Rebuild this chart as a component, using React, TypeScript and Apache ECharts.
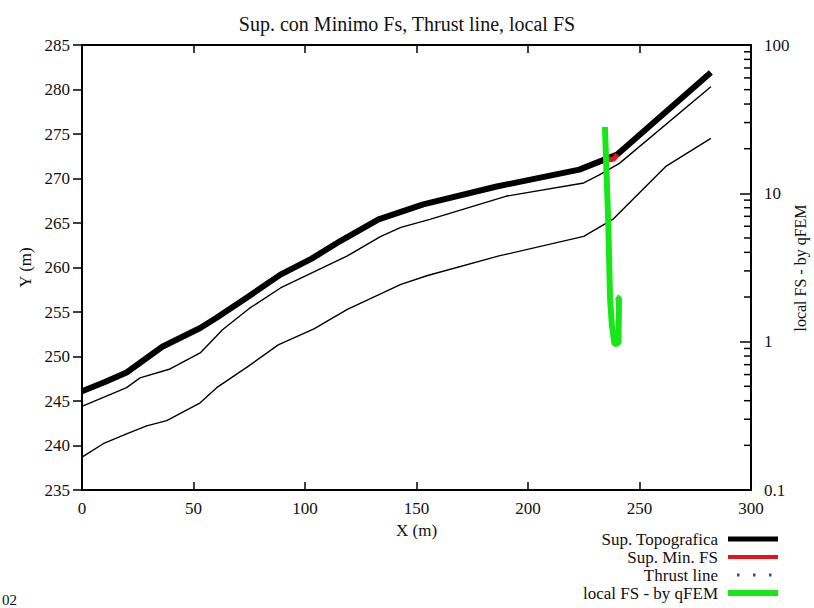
import React, { useEffect, useRef } from "react";
import * as echarts from "echarts";

const FONT = "'Liberation Serif', 'DejaVu Serif', serif";

const titleText = "Sup. con Minimo Fs, Thrust line, local FS";
const rightAxisName = "local FS - by qFEM";
const legendNames = ["Sup. Topografica", "Sup. Min. FS", "Thrust line", "local FS - by qFEM"];
const legendColors = ["#000000", "#e8141c", "#3a3ac8", "#19e619"];

// Sup. Topografica (thick black)
const topoX = [0, 10, 20, 36, 53, 60, 75, 89, 103, 116, 133, 153, 186, 223, 232, 240, 282];
const topoY = [246.1, 247.1, 248.2, 251.1, 253.2, 254.3, 256.8, 259.2, 261, 263, 265.4, 267.1, 269.1, 271, 271.9, 272.7, 281.9];

// layer boundary 1 (thin)
const layer1X = [0, 20, 26, 39.5, 53, 63, 75, 89, 119, 134, 143, 156, 190, 225, 232, 241, 282];
const layer1Y = [244.4, 246.5, 247.6, 248.6, 250.4, 253, 255.4, 257.7, 261.3, 263.5, 264.5, 265.4, 268, 269.5, 270.4, 271.7, 280.3];

// layer boundary 2 (thin)
const layer2X = [0, 9.5, 20, 29, 38, 53, 60.4, 74, 88, 104, 119, 143, 155, 187, 225, 238, 262, 282];
const layer2Y = [238.7, 240.2, 241.3, 242.2, 242.8, 244.8, 246.5, 248.8, 251.3, 253.1, 255.3, 258.1, 259.1, 261.3, 263.5, 265.4, 271.4, 274.5];

// Sup. Min. FS (red)
const minFsX = [235.5, 237, 238.5, 240];
const minFsY = [272.3, 272.1, 272.2, 272.7];

// Thrust line (not visible in picture)
const thrustX: number[] = [];
const thrustY: number[] = [];

// local FS - by qFEM (right log axis)
const localX = [234.5, 236.0, 236.8, 237.6, 238.8, 240.6, 240.8, 239.6];
const localFS = [28, 6.3, 1.95, 1.3, 0.96, 0.98, 1.95, 2.0];

// log axis minor tick values
const minorTickValues = [
  0.2, 0.3, 0.4, 0.5, 0.6, 0.7, 0.8, 0.9,
  2, 3, 4, 5, 6, 7, 8, 9,
  20, 30, 40, 50, 60, 70, 80, 90,
];

const zip = (xs: number[], ys: number[]) => xs.map((x, i) => [x, ys[i]]);

function legendGraphic(textColor: string) {
  const els: any[] = [];
  const rowY = [539, 557, 575, 593];
  const iconX1 = 728;
  const iconX2 = 778;
  legendNames.forEach((name, i) => {
    const y = rowY[i];
    els.push({
      type: "text",
      x: 718,
      y,
      style: {
        text: name,
        font: `17px ${FONT}`,
        fill: textColor,
        align: "right",
        verticalAlign: "middle",
      },
    });
    if (i === 2) {
      [0, 1, 2].forEach((k) => {
        els.push({
          type: "rect",
          shape: { x: 737 + k * 16, y: y - 1.5, width: 2.5, height: 3 },
          style: { fill: legendColors[i] },
        });
      });
    } else {
      els.push({
        type: "line",
        shape: { x1: iconX1, y1: y, x2: iconX2, y2: y },
        style: { stroke: legendColors[i], lineWidth: i === 0 ? 5 : i === 1 ? 4 : 6 },
      });
    }
  });
  return els;
}

export default function App() {
  const ref = useRef<HTMLDivElement>(null);
  useEffect(() => {
    if (!ref.current) return;
    const chart = echarts.init(ref.current, null, { renderer: "svg" });
    const textColor = "#111";
    const axisLine = { show: true, onZero: false, lineStyle: { color: "#000", width: 2 } };
    chart.setOption({
      animation: false,
      backgroundColor: "#fff",
      textStyle: { fontFamily: FONT, color: textColor },
      title: {
        text: titleText,
        left: "center",
        top: 9,
        textStyle: { fontFamily: FONT, fontWeight: "normal", fontSize: 20, color: textColor },
      },
      grid: {
        left: 82,
        right: 63,
        top: 45,
        bottom: 118,
        containLabel: false,
        outerBoundsMode: "none",
      },
      xAxis: [
        {
          type: "value",
          min: 0,
          max: 300,
          interval: 50,
          position: "bottom",
          name: "X (m)",
          nameLocation: "middle",
          nameGap: 28,
          nameTextStyle: { fontFamily: FONT, fontSize: 17, color: textColor },
          axisLine,
          axisTick: { show: true, inside: true, length: 8, lineStyle: { color: "#000", width: 1.5 } },
          axisLabel: { fontFamily: FONT, fontSize: 17, color: textColor, margin: 10 },
          splitLine: { show: false },
        },
        {
          type: "value",
          min: 0,
          max: 300,
          interval: 50,
          position: "top",
          axisLine,
          axisTick: { show: true, inside: true, length: 8, lineStyle: { color: "#000", width: 1.5 } },
          axisLabel: { show: false },
          splitLine: { show: false },
        },
      ],
      yAxis: [
        {
          type: "value",
          min: 235,
          max: 285,
          interval: 5,
          position: "left",
          name: "Y (m)",
          nameLocation: "middle",
          nameRotate: 90,
          nameGap: 48,
          nameTextStyle: { fontFamily: FONT, fontSize: 17, color: textColor },
          axisLine,
          axisTick: { show: true, inside: false, length: 9, lineStyle: { color: "#000", width: 1.5 } },
          axisLabel: { fontFamily: FONT, fontSize: 17, color: textColor, margin: 12 },
          splitLine: { show: false },
        },
        {
          type: "log",
          logBase: 10,
          min: 0.1,
          max: 100,
          position: "right",
          axisLine,
          axisTick: { show: true, inside: true, length: 11, lineStyle: { color: "#000", width: 1.5 } },
          axisLabel: {
            fontFamily: FONT,
            fontSize: 17,
            color: textColor,
            margin: 13,
            formatter: (v: number) => String(v),
          },
          splitLine: { show: false },
        },
      ],
      graphic: [
        ...legendGraphic(textColor),
        {
          type: "text",
          x: 800,
          y: 268,
          rotation: Math.PI / 2,
          style: {
            text: rightAxisName,
            font: `16px ${FONT}`,
            fill: textColor,
            align: "center",
            verticalAlign: "middle",
          },
        },
        {
          type: "text",
          x: 2,
          y: 592,
          style: { text: "02", font: `15px ${FONT}`, fill: textColor },
        },
      ],
      series: [
        {
          name: "layer1",
          type: "line",
          data: zip(layer1X, layer1Y),
          symbol: "none",
          lineStyle: { color: "#000", width: 1.4 },
          silent: true,
        },
        {
          name: "layer2",
          type: "line",
          data: zip(layer2X, layer2Y),
          symbol: "none",
          lineStyle: { color: "#000", width: 1.4 },
          silent: true,
        },
        {
          name: legendNames[0],
          type: "line",
          data: zip(topoX, topoY),
          symbol: "none",
          color: legendColors[0],
          lineStyle: { color: legendColors[0], width: 6 },
        },
        {
          name: legendNames[1],
          type: "line",
          data: zip(minFsX, minFsY),
          symbol: "none",
          color: legendColors[1],
          lineStyle: { color: legendColors[1], width: 5 },
        },
        {
          name: legendNames[2],
          type: "line",
          data: zip(thrustX, thrustY),
          symbol: "none",
          color: legendColors[2],
          lineStyle: { color: legendColors[2], width: 2, type: [2, 10] },
        },
        {
          name: legendNames[3],
          type: "line",
          yAxisIndex: 1,
          data: zip(localX, localFS),
          symbol: "none",
          color: legendColors[3],
          lineStyle: { color: legendColors[3], width: 6 },
        },
        {
          name: "minorTicks",
          type: "custom",
          yAxisIndex: 1,
          silent: true,
          clip: false,
          data: minorTickValues.map((v) => [300, v]),
          renderItem: (params: any, api: any) => {
            const p = api.coord([api.value(0), api.value(1)]);
            return {
              type: "line",
              shape: { x1: p[0] - 7, y1: p[1], x2: p[0], y2: p[1] },
              style: { stroke: "#000", lineWidth: 1.5 },
            };
          },
        },
      ],
    });
    return () => chart.dispose();
  }, []);
  return (
    <div
      ref={ref}
      style={{ position: "absolute", left: 0, top: 0, width: 814, height: 608, background: "#fff" }}
    />
  );
}
